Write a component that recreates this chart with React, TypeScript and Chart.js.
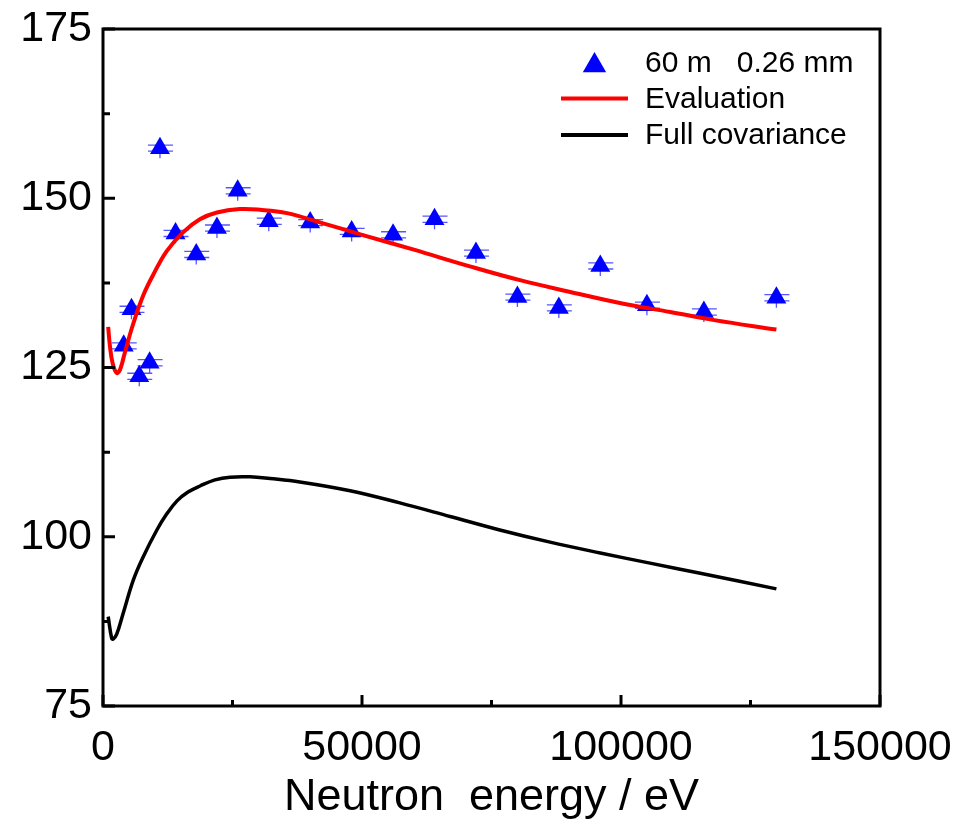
import { useEffect, useRef } from 'react';
import { Chart, registerables } from 'chart.js';

Chart.register(...registerables);

// Measured points: neutron energy (eV) and value
const energies = [4000, 5500, 7000, 9000, 11000, 14000, 18000, 22000, 26000, 32000, 40000, 48000, 56000, 64000, 72000, 80000, 88000, 96000, 105000, 116000, 130000];
const measured = [128.2, 133.6, 123.7, 125.7, 157.4, 144.8, 141.7, 145.6, 151.1, 146.6, 146.4, 145.1, 144.6, 146.9, 141.9, 135.4, 133.8, 140.0, 134.2, 133.2, 135.3];
const measuredErr = [0.45, 0.45, 0.45, 0.45, 0.45, 0.45, 0.45, 0.45, 0.45, 0.45, 0.45, 0.45, 0.45, 0.45, 0.45, 0.45, 0.45, 0.45, 0.45, 0.45, 0.45];

// Evaluation curve
const evalEnergy = [1000, 1350, 1870, 2650, 3300, 4250, 5850, 7800, 9700, 12300, 15500, 18700, 22000, 26400, 30300, 35500, 42000, 50000, 60000, 71000, 80500, 90000, 100000, 109500, 118000, 130000];
const evalValues = [131.0, 128.1, 125.6, 124.2, 124.7, 127.3, 131.5, 135.7, 138.7, 142.2, 145.0, 146.9, 147.9, 148.4, 148.3, 147.8, 146.4, 144.6, 142.4, 139.9, 137.9, 136.2, 134.5, 133.2, 132.0, 130.6];

// Full covariance curve
const covEnergy = [1000, 1680, 2000, 2650, 3900, 5850, 7800, 10400, 12160, 14290, 16410, 18730, 21620, 24520, 28380, 32240, 38000, 47700, 57300, 67000, 76600, 86300, 96000, 105600, 115300, 130000];
const covValues = [88.2, 85.0, 84.9, 85.6, 88.7, 93.6, 97.1, 101.0, 103.2, 105.3, 106.6, 107.5, 108.4, 108.8, 108.85, 108.6, 108.1, 106.8, 105.0, 103.0, 101.0, 99.2, 97.6, 96.1, 94.6, 92.3];

const xMajorTicks = [0, 50000, 100000, 150000];
const xMinorTicks = [25000, 75000, 125000];
const yMajorTicks = [75, 100, 125, 150, 175];
const yMinorTicks = [87.5, 112.5, 137.5, 162.5];

const seriesLabels = ['60 m   0.26 mm', 'Evaluation', 'Full covariance'];

const FONT = '"Liberation Sans", Arial, Helvetica, sans-serif';

const errorBarsPlugin = {
  id: 'errorBars',
  beforeDatasetsDraw(chart: any) {
    const { ctx, scales } = chart;
    const x = scales.x;
    const y = scales.y;
    ctx.save();
    ctx.strokeStyle = 'rgba(30,30,255,0.75)';
    ctx.lineWidth = 1.3;
    energies.forEach((e, i) => {
      const px = x.getPixelForValue(e);
      const py = y.getPixelForValue(measured[i]);
      const up = y.getPixelForValue(measured[i] + measuredErr[i]);
      const dn = y.getPixelForValue(measured[i] - measuredErr[i]);
      ctx.beginPath();
      ctx.moveTo(px - 12, up);
      ctx.lineTo(px + 13, up);
      ctx.moveTo(px - 12, dn);
      ctx.lineTo(px + 13, dn);
      ctx.moveTo(px, up);
      ctx.lineTo(px, py + 10);
      ctx.stroke();
    });
    ctx.restore();
  },
};

const framePlugin = {
  id: 'frameTicks',
  afterDatasetsDraw(chart: any) {
    const { ctx, chartArea: a, scales } = chart;
    const x = scales.x;
    const y = scales.y;
    ctx.save();
    ctx.strokeStyle = '#000';
    ctx.lineWidth = 3;
    ctx.beginPath();
    yMajorTicks.forEach((v) => {
      const p = y.getPixelForValue(v);
      ctx.moveTo(a.left, p);
      ctx.lineTo(a.left + 12, p);
    });
    yMinorTicks.forEach((v) => {
      const p = y.getPixelForValue(v);
      ctx.moveTo(a.left, p);
      ctx.lineTo(a.left + 7, p);
    });
    xMajorTicks.forEach((v) => {
      const p = x.getPixelForValue(v);
      ctx.moveTo(p, a.bottom);
      ctx.lineTo(p, a.bottom - 11);
    });
    xMinorTicks.forEach((v) => {
      const p = x.getPixelForValue(v);
      ctx.moveTo(p, a.bottom);
      ctx.lineTo(p, a.bottom - 6);
    });
    ctx.stroke();
    ctx.lineWidth = 3;
    ctx.strokeRect(a.left, a.top, a.right - a.left, a.bottom - a.top);
    ctx.restore();
  },
};

const legendPlugin = {
  id: 'customLegend',
  afterDraw(chart: any) {
    const { ctx } = chart;
    const ds = chart.data.datasets;
    const textX = 645;
    const rowsY = [63.5, 99.5, 136];
    ctx.save();
    ctx.font = `30px ${FONT}`;
    ctx.fillStyle = '#000';
    ctx.textAlign = 'left';
    ctx.textBaseline = 'middle';
    ds.forEach((d: any, i: number) => {
      const cy = rowsY[i];
      if (d.pointStyle === 'triangle') {
        const r = 13.5;
        const cx = 594.5;
        const py = cy + 2;
        ctx.fillStyle = d.backgroundColor;
        ctx.beginPath();
        ctx.moveTo(cx, py - r);
        ctx.lineTo(cx + r * Math.sin((2 * Math.PI) / 3), py + r * 0.5);
        ctx.lineTo(cx - r * Math.sin((2 * Math.PI) / 3), py + r * 0.5);
        ctx.closePath();
        ctx.fill();
      } else {
        ctx.strokeStyle = d.borderColor;
        ctx.lineWidth = 4;
        ctx.beginPath();
        ctx.moveTo(561, cy - 1);
        ctx.lineTo(628, cy - 1);
        ctx.stroke();
      }
      ctx.fillStyle = '#000';
      ctx.fillText(d.label, textX, cy);
    });
    ctx.restore();
  },
};

export default function App() {
  const canvasRef = useRef<HTMLCanvasElement | null>(null);

  useEffect(() => {
    if (!canvasRef.current) return;
    const chart = new Chart(canvasRef.current, {
      type: 'scatter',
      data: {
        datasets: [
          {
            type: 'scatter',
            label: seriesLabels[0],
            data: energies.map((e, i) => ({ x: e, y: measured[i] })),
            pointStyle: 'triangle',
            pointRadius: 11.5,
            pointHoverRadius: 11.5,
            backgroundColor: '#0000ff',
            borderColor: '#0000ff',
            borderWidth: 0,
            order: 3,
          } as any,
          {
            type: 'line',
            label: seriesLabels[1],
            data: evalEnergy.map((e, i) => ({ x: e, y: evalValues[i] })),
            borderColor: '#ff0000',
            backgroundColor: '#ff0000',
            borderWidth: 4,
            pointRadius: 0,
            tension: 0.4,
            fill: false,
            order: 1,
          } as any,
          {
            type: 'line',
            label: seriesLabels[2],
            data: covEnergy.map((e, i) => ({ x: e, y: covValues[i] })),
            borderColor: '#000000',
            backgroundColor: '#000000',
            borderWidth: 3.5,
            pointRadius: 0,
            tension: 0.4,
            fill: false,
            order: 2,
          } as any,
        ],
      },
      options: {
        animation: false,
        responsive: false,
        devicePixelRatio: 1,
        layout: { padding: { top: 29, right: 77, left: 0, bottom: 0 } },
        plugins: {
          legend: { display: false },
          tooltip: { enabled: false },
        },
        scales: {
          x: {
            type: 'linear',
            min: 0,
            max: 150000,
            grid: { display: false },
            border: { display: false },
            ticks: {
              stepSize: 50000,
              color: '#000',
              font: { family: FONT, size: 43 },
              padding: 8,
              maxRotation: 0,
              callback: (v: any) => String(v),
            },
            title: {
              display: true,
              text: 'Neutron  energy / eV',
              color: '#000',
              font: { family: FONT, size: 45 },
              padding: { top: 0, bottom: 0 },
            },
            afterFit: (scale: any) => {
              scale.height = 119;
              scale.paddingLeft = 0;
              scale.paddingRight = 0;
            },
          },
          y: {
            type: 'linear',
            min: 75,
            max: 175,
            grid: { display: false },
            border: { display: false },
            ticks: {
              stepSize: 25,
              color: '#000',
              font: { family: FONT, size: 43 },
              padding: 3,
              callback: (v: any) => String(v),
            },
            afterFit: (scale: any) => {
              scale.width = 103;
              scale.paddingTop = 0;
              scale.paddingBottom = 0;
            },
          },
        },
      },
      plugins: [errorBarsPlugin, framePlugin, legendPlugin],
    });
    return () => chart.destroy();
  }, []);

  return (
    <div style={{ position: 'absolute', left: 0, top: 0, width: 957, height: 825, background: '#fff' }}>
      <canvas ref={canvasRef} width={957} height={825} style={{ display: 'block', width: 957, height: 825 }} />
    </div>
  );
}
